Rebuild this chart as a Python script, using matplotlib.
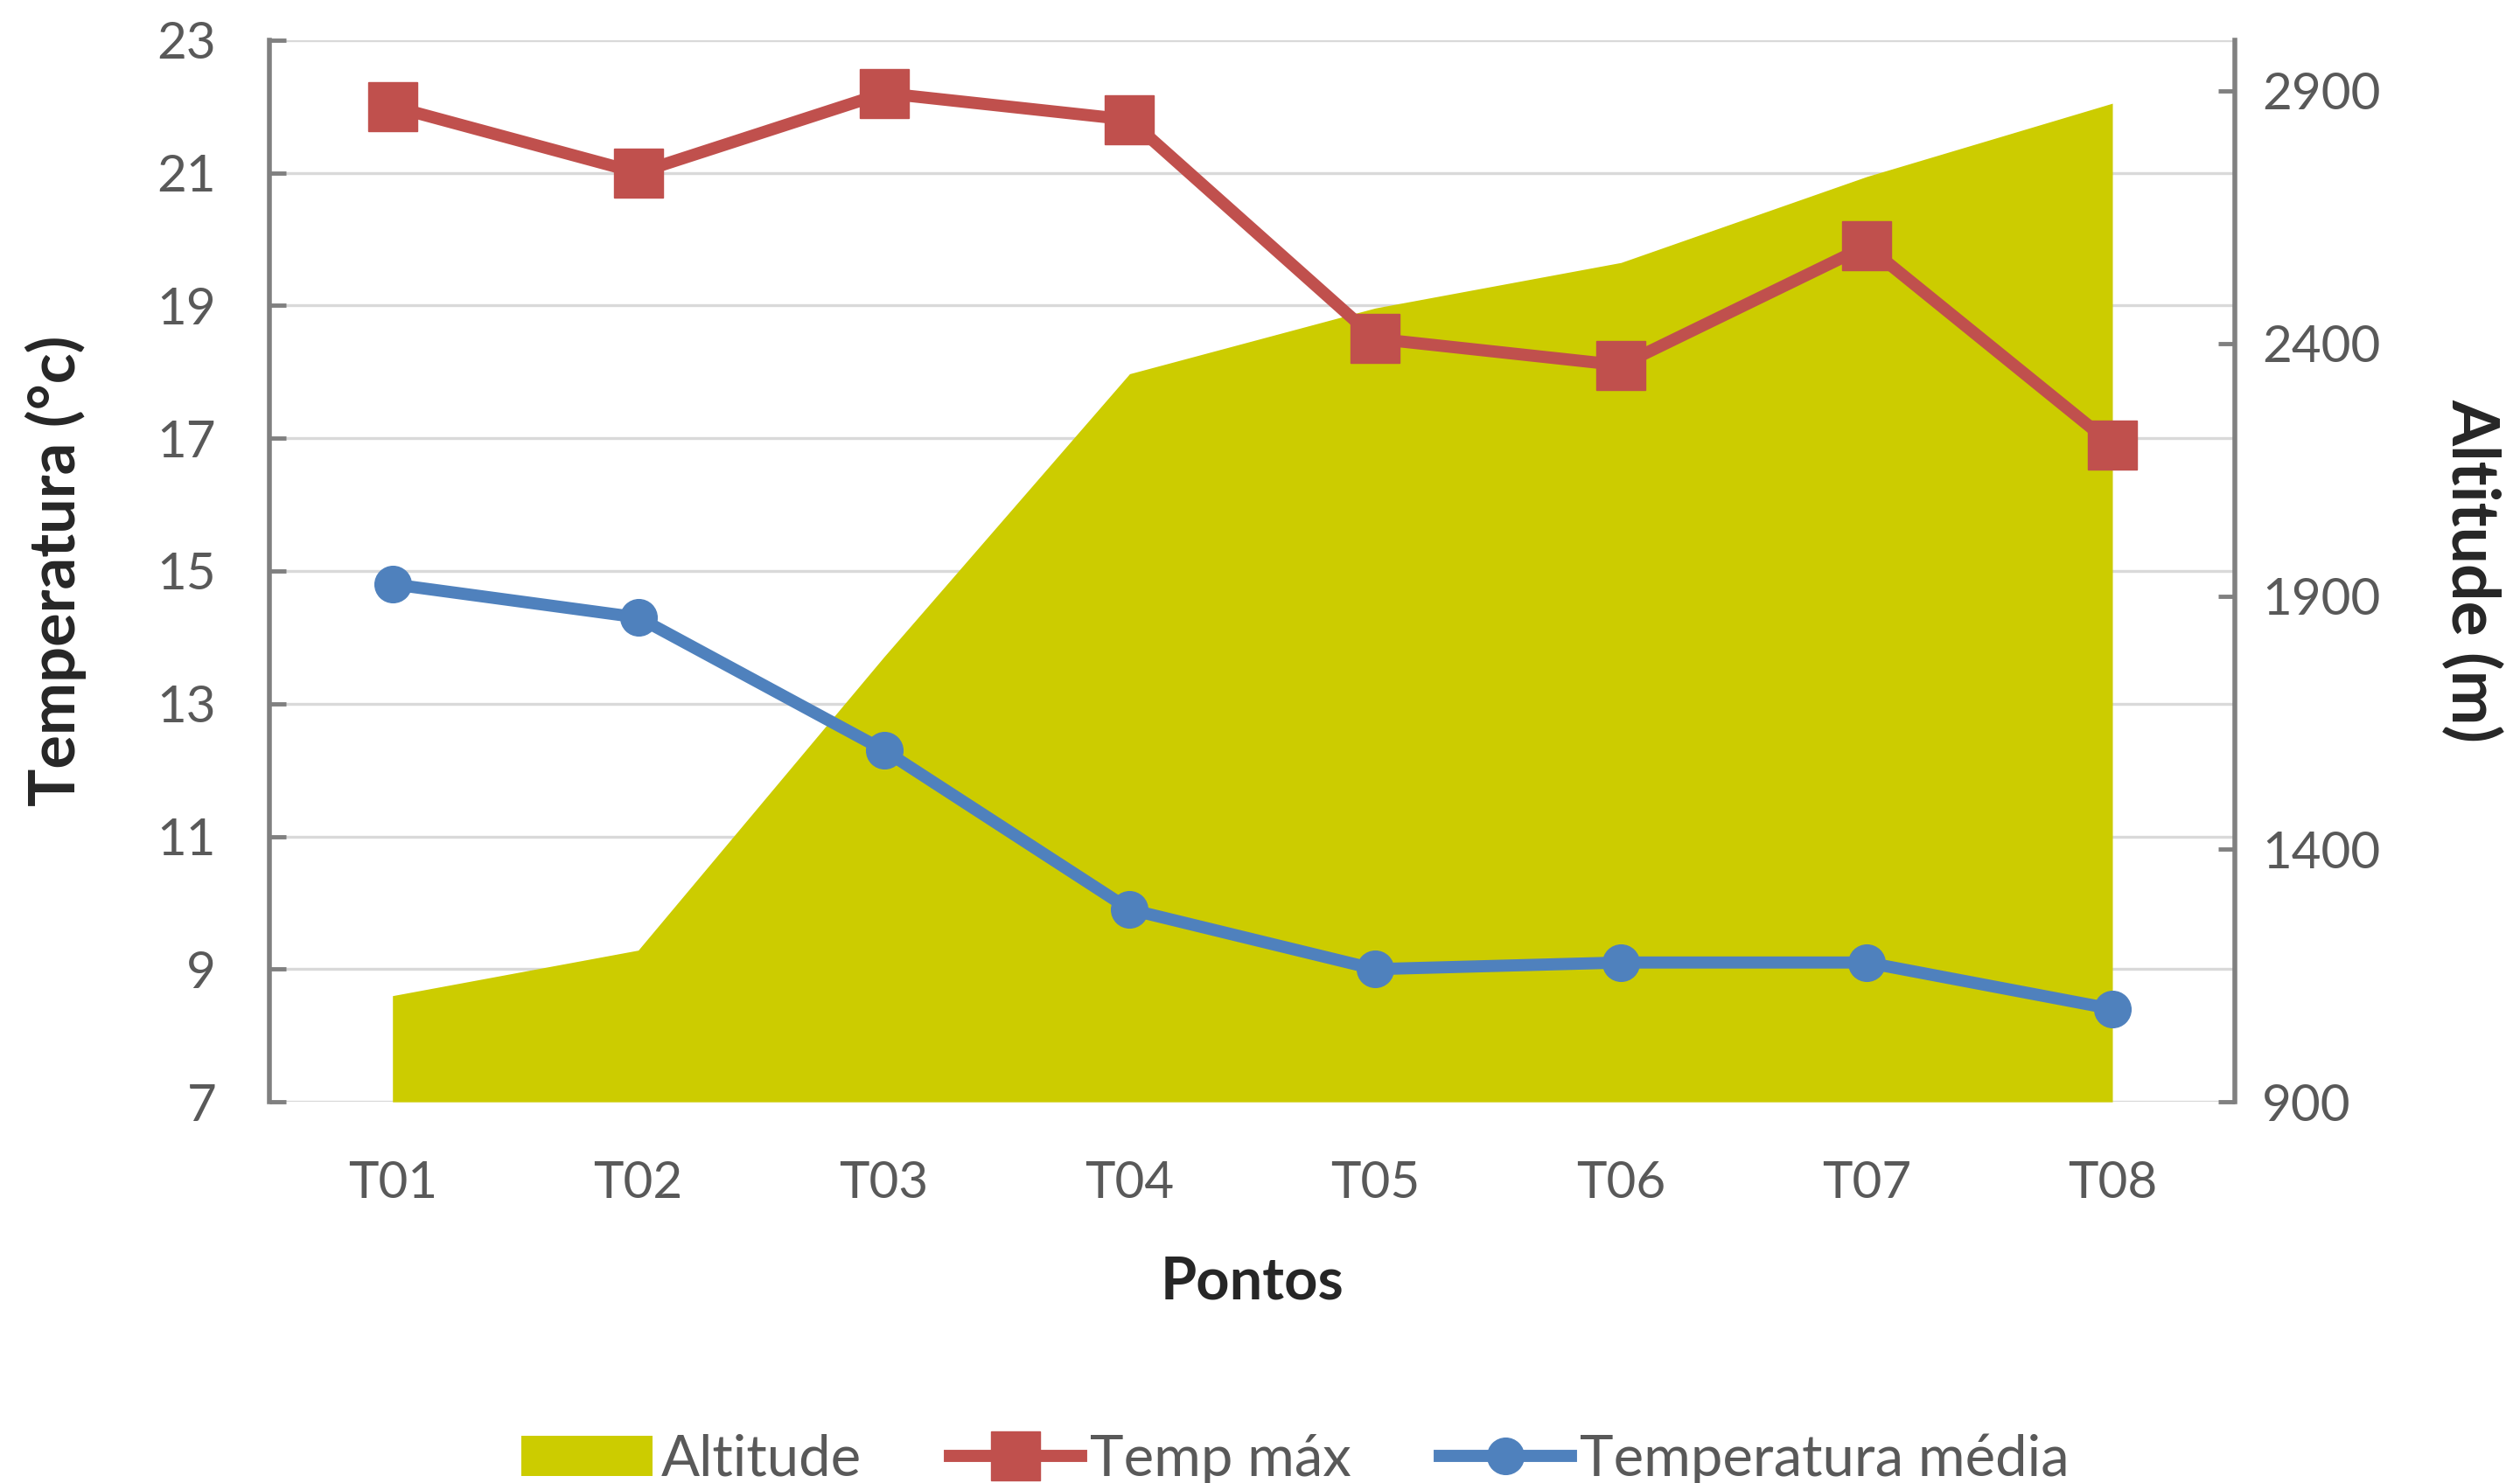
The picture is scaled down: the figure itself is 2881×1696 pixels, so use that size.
import matplotlib

matplotlib.use("Agg")
import matplotlib.pyplot as plt

plt.rcParams["font.family"] = ["Lato", "DejaVu Sans"]

# data
pontos = ["T01", "T02", "T03", "T04", "T05", "T06", "T07", "T08"]
altitude = [1110, 1200, 1780, 2340, 2470, 2560, 2730, 2875]
temp_max = [22.0, 21.0, 22.2, 21.8, 18.5, 18.1, 19.9, 16.9]
temp_media = [14.8, 14.3, 12.3, 9.9, 9.0, 9.1, 9.1, 8.4]

temp_ticks = list(range(7, 24, 2))
alt_ticks = [900, 1400, 1900, 2400, 2900]

YELLOW = "#CCCC00"
RED = "#C0504D"
BLUE = "#4F81BD"
GRID = "#D9D9D9"
AXIS = "#808080"
TXT = "#595959"

fig = plt.figure(figsize=(28.81, 16.96), dpi=100)
ax = fig.add_axes([0.107, 0.257, 0.78, 0.716])   # temperature axis + grid
ax2 = ax.twinx()                                 # altitude area
ax3 = ax.twinx()                                 # temperature lines on top
x = list(range(len(pontos)))

for a in (ax, ax2, ax3):
    for s in a.spines.values():
        s.set_visible(False)
    a.set_xlim(-0.5, len(pontos) - 0.5)

# temperature axis
ax.set_ylim(7, 23)
ax.set_yticks(temp_ticks)
ax.grid(axis="y", color=GRID, lw=2.4)
ax.set_axisbelow(True)
ax.spines["left"].set_visible(True)
ax.spines["left"].set_color(AXIS)
ax.spines["left"].set_linewidth(4)
ax.tick_params(axis="y", direction="in", length=14, width=3.5, color=AXIS,
               labelsize=42, labelcolor=TXT, pad=44)
ax.set_xticks(x)
ax.set_xticklabels(pontos)
ax.tick_params(axis="x", length=0, labelsize=42, labelcolor=TXT, pad=48)
ax.set_ylabel("Temperatura (°c)", fontsize=52, fontweight="bold", color="#262626", labelpad=58)
ax.set_xlabel("Pontos", fontsize=48, fontweight="bold", color="#262626", labelpad=40)

# altitude area
ax2.fill_between(x, altitude, 900, color=YELLOW, lw=0, label="Altitude")
ax2.set_ylim(900, 3000)
ax2.set_yticks(alt_ticks)
ax2.spines["right"].set_visible(True)
ax2.spines["right"].set_color(AXIS)
ax2.spines["right"].set_linewidth(4)
ax2.tick_params(axis="y", direction="in", length=14, width=3.5, color=AXIS,
                labelsize=42, labelcolor=TXT, pad=22)
ax2.set_ylabel("Altitude (m)", fontsize=54, fontweight="bold", color="#262626",
               rotation=-90, labelpad=100)

# temperature lines
ax3.set_ylim(7, 23)
ax3.set_yticks([])
ax3.plot(x, temp_max, color=RED, lw=10, marker="s", ms=40, label="Temp máx",
         clip_on=False)
ax3.plot(x, temp_media, color=BLUE, lw=10, marker="o", ms=30, label="Temperatura média",
         clip_on=False)

h2, l2 = ax2.get_legend_handles_labels()
h3, l3 = ax3.get_legend_handles_labels()
fig.legend(h2 + h3, l2 + l3, loc="center", bbox_to_anchor=(0.514, 0.016), ncol=3,
           frameon=False, fontsize=47, handlelength=2.3, columnspacing=1.55,
           handletextpad=0.15, labelcolor=TXT)

fig.savefig("out.png", dpi=100)
